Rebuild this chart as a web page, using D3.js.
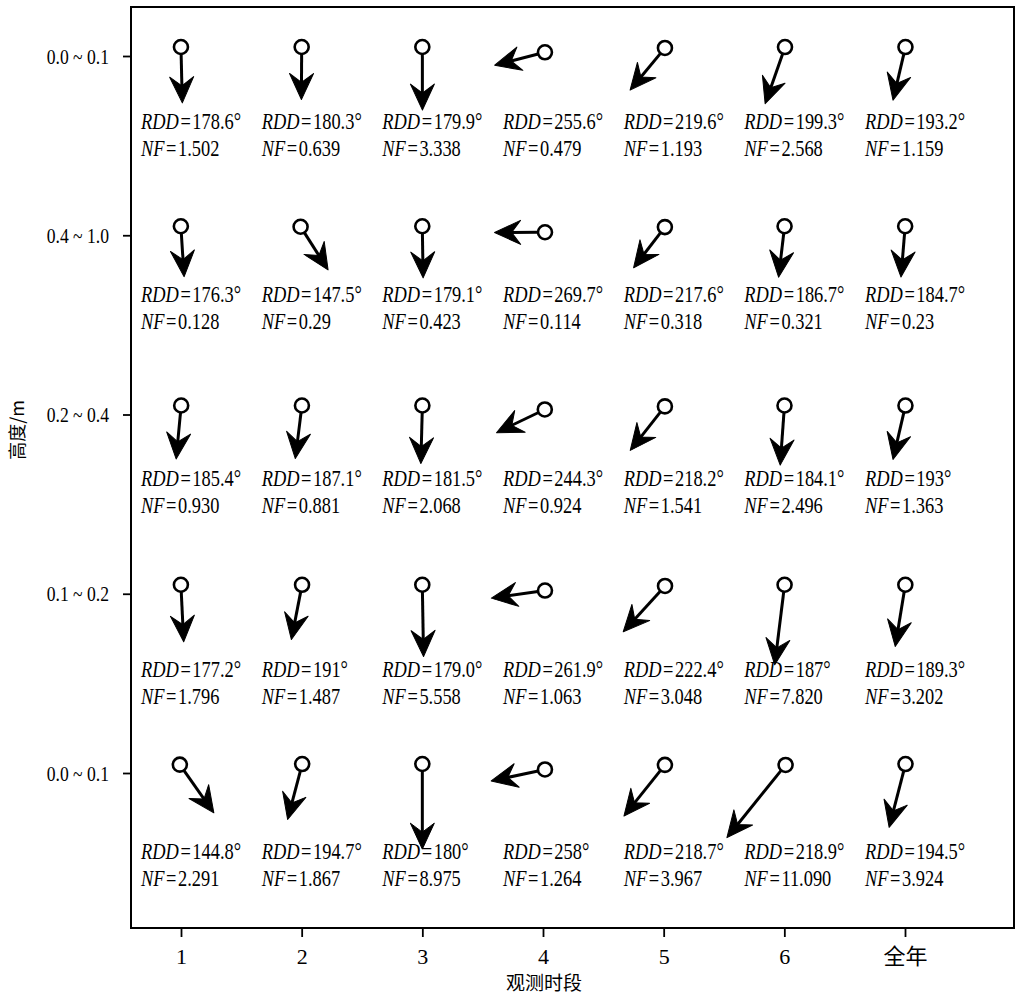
<!DOCTYPE html>
<html>
<head>
<meta charset="utf-8">
<script src="https://cdn.jsdelivr.net/npm/d3@7"></script>
<style>
  body { margin: 0; background: #fff; }
  svg text { font-family: "Times New Roman", "Liberation Serif", "Noto Sans CJK SC", serif; fill: #000; }
</style>
</head>
<body>
<svg id="chart" width="1017" height="995"></svg>
<script>
// categories
var periods = ['1', '2', '3', '4', '5', '6', '全年'];
var heightLabels = ['0.0 ~ 0.1', '0.4 ~ 1.0', '0.2 ~ 0.4', '0.1 ~ 0.2', '0.0 ~ 0.1'];

// RDD (deg) per height row, one entry per period -- kept as text so labels read like the figure
var rddRow1 = ['178.6', '180.3', '179.9', '255.6', '219.6', '199.3', '193.2'];
var rddRow2 = ['176.3', '147.5', '179.1', '269.7', '217.6', '186.7', '184.7'];
var rddRow3 = ['185.4', '187.1', '181.5', '244.3', '218.2', '184.1', '193'];
var rddRow4 = ['177.2', '191', '179.0', '261.9', '222.4', '187', '189.3'];
var rddRow5 = ['144.8', '194.7', '180', '258', '218.7', '218.9', '194.5'];

// NF per height row
var nfRow1 = ['1.502', '0.639', '3.338', '0.479', '1.193', '2.568', '1.159'];
var nfRow2 = ['0.128', '0.29', '0.423', '0.114', '0.318', '0.321', '0.23'];
var nfRow3 = ['0.930', '0.881', '2.068', '0.924', '1.541', '2.496', '1.363'];
var nfRow4 = ['1.796', '1.487', '5.558', '1.063', '3.048', '7.820', '3.202'];
var nfRow5 = ['2.291', '1.867', '8.975', '1.264', '3.967', '11.090', '3.924'];

var rddRows = [rddRow1, rddRow2, rddRow3, rddRow4, rddRow5];
var nfRows = [nfRow1, nfRow2, nfRow3, nfRow4, nfRow5];

// frame
var box = {left: 131, top: 7, right: 1014, bottom: 928};

var svg = d3.select('#chart');

var x = d3.scalePoint().domain(periods).range([181, 905]);
var y = d3.scalePoint().domain(d3.range(heightLabels.length)).range([56, 773]);
// arrow length grows with NF
var len = d3.scaleLinear().domain([0, 12]).range([50, 97]);

svg.append('rect')
    .attr('x', box.left).attr('y', box.top)
    .attr('width', box.right - box.left).attr('height', box.bottom - box.top)
    .attr('fill', 'none').attr('stroke', '#000').attr('stroke-width', 2);

// axes
var xAxis = svg.append('g')
    .attr('transform', 'translate(0,' + box.bottom + ')')
    .call(d3.axisBottom(x).tickSize(9).tickPadding(8));
var yAxis = svg.append('g')
    .attr('transform', 'translate(' + box.left + ',0)')
    .call(d3.axisLeft(y).tickSize(8).tickPadding(14).tickFormat(function(i){ return heightLabels[i]; }));

[xAxis, yAxis].forEach(function(ax){
    ax.select('.domain').remove();
    ax.selectAll('.tick line').attr('stroke', '#000').attr('stroke-width', 1.8);
    ax.selectAll('.tick text').attr('font-size', 22).attr('fill', '#000')
        .style('font-family', '"Times New Roman", "Liberation Serif", "Noto Sans CJK SC", serif');
});
// squeeze tick labels like the original
yAxis.selectAll('.tick text').each(function(){
    var t = d3.select(this);
    var tx = +t.attr('x');
    t.attr('x', null).attr('transform', 'translate(' + tx + ',0) scale(0.8,1)');
});
xAxis.selectAll('.tick text').attr('dy', '0.85em');

// axis titles
svg.append('text')
    .attr('x', 544).attr('y', 990)
    .attr('text-anchor', 'middle')
    .attr('font-size', 19)
    .style('font-family', '"Noto Sans CJK SC", serif')
    .text('观测时段');

svg.append('text')
    .attr('transform', 'translate(24,430) rotate(-90)')
    .attr('text-anchor', 'middle')
    .attr('font-size', 18)
    .style('font-family', '"Noto Sans CJK SC", serif')
    .text('高度/m');

// build cells
var cells = [];
rddRows.forEach(function(row, r){
    row.forEach(function(v, c){
        cells.push({row: r, period: periods[c], rdd: v, nf: nfRows[r][c]});
    });
});

var rad = function(d){ return (+d.rdd) * Math.PI / 180; };
var down = function(d){ return len(+d.nf) * -Math.cos(rad(d)); };

// label offset per row follows the longest downward arrow in it
var rowDown = d3.range(rddRows.length).map(function(r){
    return d3.max(cells.filter(function(d){ return d.row === r; }), down);
});

var circleR = 7;
var headLen = 26;

var g = svg.append('g');

var cell = g.selectAll('g.cell').data(cells).enter().append('g')
    .attr('class', 'cell')
    .attr('transform', function(d){
        var s = Math.sin(rad(d));
        var cy = y(d.row) - 9 + 6 * Math.pow(s, 4);
        return 'translate(' + (x(d.period) - 2 * s) + ',' + cy + ')';
    });

cell.append('line')
    .attr('x1', function(d){ return circleR * Math.sin(rad(d)); })
    .attr('y1', function(d){ return -circleR * Math.cos(rad(d)); })
    .attr('x2', function(d){ return (len(+d.nf) - 16) * Math.sin(rad(d)); })
    .attr('y2', function(d){ return -(len(+d.nf) - 16) * Math.cos(rad(d)); })
    .attr('stroke', '#000').attr('stroke-width', 3);

cell.append('path')
    .attr('d', 'M0,0L-12,' + (-headLen) + 'L0,-17L12,' + (-headLen) + 'Z')
    .attr('fill', '#000')
    .attr('stroke', '#000').attr('stroke-width', 1)
    .attr('stroke-linejoin', 'round')
    .attr('transform', function(d){
        var L = len(+d.nf);
        return 'translate(' + (L * Math.sin(rad(d))) + ',' + (-L * Math.cos(rad(d))) + ') rotate(' + (+d.rdd - 180) + ')';
    });

cell.append('circle')
    .attr('r', circleR)
    .attr('fill', '#fff').attr('stroke', '#000').attr('stroke-width', 2.6);

// text labels
var lbl = g.selectAll('g.lbl').data(cells).enter().append('g')
    .attr('class', 'lbl');

function addLabel(name, value, dyOff) {
    lbl.append('text')
        .attr('transform', function(d){
            return 'translate(' + (x(d.period) - 40) + ',' + (y(d.row) + dyOff + 0.59 * rowDown[d.row]) + ') scale(0.8,1)';
        })
        .attr('font-size', 23)
        .each(function(d){
            var t = d3.select(this);
            t.append('tspan').attr('font-style', 'italic').text(name);
            t.append('tspan').attr('dx', 2).text('=');
            t.append('tspan').attr('dx', 2).text(value(d));
        });
}
addLabel('RDD', function(d){ return d.rdd + '°'; }, 36);
addLabel('NF', function(d){ return d.nf; }, 63);
</script>
</body>
</html>
